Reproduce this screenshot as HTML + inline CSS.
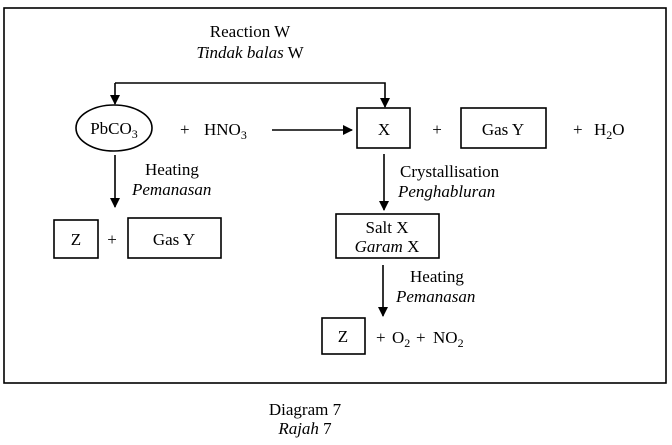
<!DOCTYPE html>
<html><head><style>
body{margin:0;background:#fff;}
svg{display:block;font-family:"Liberation Serif",serif;font-size:17px;}
text{white-space:pre;}
</style></head><body>
<svg width="672" height="445" viewBox="0 0 672 445">
<defs><marker id="a" markerWidth="10" markerHeight="10" refX="9" refY="5" orient="auto" markerUnits="userSpaceOnUse"><path d="M0,0 L10,5 L0,10 z" fill="#000"/></marker></defs>
<g fill="none" stroke="#000" stroke-width="1.6">
<rect x="4" y="8" width="662" height="375"/>
<path d="M115,83 L115,104" marker-end="url(#a)"/>
<path d="M115,83 L385,83 L385,107" marker-end="url(#a)"/>
<ellipse cx="114" cy="128" rx="38" ry="23"/>
<path d="M272,130 L352,130" marker-end="url(#a)"/>
<rect x="357" y="108" width="53" height="40"/>
<rect x="461" y="108" width="85" height="40"/>
<path d="M115,155 L115,207" marker-end="url(#a)"/>
<rect x="54" y="220" width="44" height="38"/>
<rect x="128" y="218" width="93" height="40"/>
<path d="M384,154 L384,210" marker-end="url(#a)"/>
<rect x="336" y="214" width="103" height="44"/>
<path d="M383,265 L383,316" marker-end="url(#a)"/>
<rect x="322" y="318" width="43" height="36"/>
</g>
<g fill="#000">
<text x="250" y="37" text-anchor="middle">Reaction W</text>
<text x="250" y="58" text-anchor="middle"><tspan font-style="italic">Tindak balas</tspan> W</text>
<text x="114" y="134" text-anchor="middle">PbCO<tspan font-size="12" dy="4">3</tspan></text>
<text x="180" y="135">+</text>
<text x="204" y="135">HNO<tspan font-size="12" dy="4">3</tspan></text>
<text x="384" y="135" text-anchor="middle">X</text>
<text x="437" y="135" text-anchor="middle">+</text>
<text x="503" y="135" text-anchor="middle">Gas Y</text>
<text x="573" y="135">+</text>
<text x="594" y="135">H<tspan font-size="12" dy="4">2</tspan><tspan dy="-4">O</tspan></text>
<text x="145" y="175">Heating</text>
<text x="132" y="195" font-style="italic">Pemanasan</text>
<text x="76" y="245" text-anchor="middle">Z</text>
<text x="112" y="245" text-anchor="middle">+</text>
<text x="174" y="245" text-anchor="middle">Gas Y</text>
<text x="400" y="177">Crystallisation</text>
<text x="398" y="197" font-style="italic">Penghabluran</text>
<text x="387" y="233" text-anchor="middle">Salt X</text>
<text x="387" y="252" text-anchor="middle"><tspan font-style="italic">Garam</tspan> X</text>
<text x="410" y="282">Heating</text>
<text x="396" y="302" font-style="italic">Pemanasan</text>
<text x="343" y="342" text-anchor="middle">Z</text>
<text x="376" y="343">+</text>
<text x="392" y="343">O<tspan font-size="12" dy="4">2</tspan></text>
<text x="416" y="343">+</text>
<text x="433" y="343">NO<tspan font-size="12" dy="4">2</tspan></text>
<text x="305" y="415" text-anchor="middle">Diagram 7</text>
<text x="305" y="434" text-anchor="middle"><tspan font-style="italic">Rajah</tspan> 7</text>
</g>
</svg>
</body></html>
